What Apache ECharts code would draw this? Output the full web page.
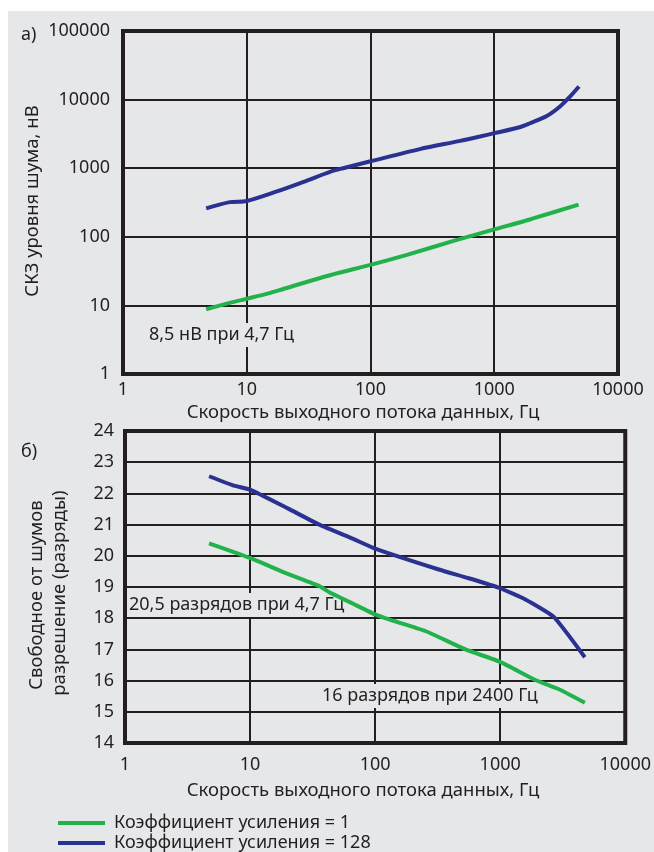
<!DOCTYPE html>
<html>
<head>
<meta charset="utf-8">
<script src="https://cdn.jsdelivr.net/npm/echarts@6/dist/echarts.min.js"></script>
<style>
html,body{margin:0;padding:0;background:#fff;}
#c{width:654px;height:852px;}
</style>
</head>
<body>
<div id="c"></div>
<script>
// ---- data ----
const seriesNames = ['Коэффициент усиления = 1', 'Коэффициент усиления = 128'];
const xTitle = 'Скорость выходного потока данных, Гц';
const topYTitle = 'СКЗ уровня шума, нВ';
const botYTitle = ['Свободное от шумов', 'разрешение (разряды)'];
const topAnnot = '8,5 нВ при 4,7 Гц';
const botAnnot1 = '20,5 разрядов при 4,7 Гц';
const botAnnot2 = '16 разрядов при 2400 Гц';

// (a) noise RMS, nV
const topGreenX = [4.7, 7.3, 10, 15, 20, 47, 100, 200, 500, 1000, 2000, 4800];
const topGreenY = [8.8, 10.9, 12.5, 15, 17.5, 27.5, 39, 55, 90, 128, 182, 295];
const topBlueX = [4.7, 7.3, 10, 17.5, 30, 47, 60, 100, 250, 530, 767, 1000, 1600, 1945, 2655, 3400, 4095, 4840];
const topBlueY = [260, 320, 333, 458, 650, 884, 1000, 1260, 1900, 2500, 2900, 3240, 3950, 4520, 5770, 7950, 11070, 15500];

// (б) noise-free resolution, bits
const botGreenX = [4.7, 10, 20, 35.8, 43, 66, 100, 129, 252, 527, 1000, 1905, 2925, 4750];
const botGreenY = [20.4, 19.93, 19.42, 19.03, 18.83, 18.47, 18.12, 17.96, 17.59, 17.0, 16.6, 16.02, 15.73, 15.29];
const botBlueX = [4.7, 7.3, 10, 20, 35.8, 66, 100, 323, 561, 1000, 1590, 2670, 4750];
const botBlueY = [22.55, 22.26, 22.12, 21.52, 21.0, 20.55, 20.23, 19.56, 19.28, 18.96, 18.6, 18.05, 16.75];

const xTicks = [1, 10, 100, 1000, 10000];
const topYMin = 1, topYMax = 100000;
const botYMin = 14, botYMax = 24, botYStep = 1;

const zip = (xs, ys) => xs.map((x, i) => [x, ys[i]]);

const GREEN = '#22b24c';
const BLUE = '#2b3190';
const INK = '#231f20';
const BG = '#e6e7e9';
const FONT = 'Noto Sans';
const FS = 18;

const chart = echarts.init(document.getElementById('c'), null, {renderer: 'canvas'});

const xAxisCommon = {
  type: 'log', min: xTicks[0], max: xTicks[xTicks.length - 1], logBase: 10,
  axisLine: {show: false}, axisTick: {show: false},
  splitLine: {show: true, lineStyle: {color: INK, width: 2}},
  axisLabel: {color: INK, fontFamily: FONT, fontSize: FS, formatter: v => String(v)}
};
const f = (size) => size + 'px "Noto Sans"';

const option = {
  backgroundColor: '#fff',
  animation: false,
  textStyle: {fontFamily: FONT, color: INK},
  grid: [
    {left: 123, top: 31, width: 495, height: 343, show: true, borderColor: INK, borderWidth: 4, backgroundColor: 'transparent'},
    {left: 125, top: 431, width: 502, height: 312, show: true, borderColor: INK, borderWidth: 4, backgroundColor: 'transparent'}
  ],
  xAxis: [
    Object.assign({}, xAxisCommon, {gridIndex: 0, axisLabel: Object.assign({}, xAxisCommon.axisLabel, {margin: 7})}),
    Object.assign({}, xAxisCommon, {gridIndex: 1, axisLabel: Object.assign({}, xAxisCommon.axisLabel, {margin: 13})})
  ],
  yAxis: [
    {type: 'log', gridIndex: 0, min: topYMin, max: topYMax, logBase: 10,
     axisLine: {show: false}, axisTick: {show: false},
     splitLine: {show: true, lineStyle: {color: INK, width: 2}},
     axisLabel: {color: INK, fontFamily: FONT, fontSize: FS, margin: 13, formatter: v => String(v)}},
    {type: 'value', gridIndex: 1, min: botYMin, max: botYMax, interval: botYStep,
     axisLine: {show: false}, axisTick: {show: false},
     splitLine: {show: true, lineStyle: {color: INK, width: 2}},
     axisLabel: {color: INK, fontFamily: FONT, fontSize: FS, margin: 11}}
  ],
  legend: {
    orient: 'vertical', left: 53, top: 808, height: 120, itemWidth: 47, itemHeight: 4, itemGap: 0,
    icon: 'rect',
    textStyle: {color: INK, fontFamily: FONT, fontSize: FS, lineHeight: 20, padding: [0, 0, 0, 4]},
    data: seriesNames
  },
  series: [
    {name: seriesNames[0], type: 'line', xAxisIndex: 0, yAxisIndex: 0, data: zip(topGreenX, topGreenY),
     showSymbol: false, smooth: 0.3, lineStyle: {color: GREEN, width: 4}, itemStyle: {color: GREEN}, z: 3},
    {name: seriesNames[1], type: 'line', xAxisIndex: 0, yAxisIndex: 0, data: zip(topBlueX, topBlueY),
     showSymbol: false, smooth: 0.3, lineStyle: {color: BLUE, width: 4}, itemStyle: {color: BLUE}, z: 3},
    {name: seriesNames[0], type: 'line', xAxisIndex: 1, yAxisIndex: 1, data: zip(botGreenX, botGreenY),
     showSymbol: false, smooth: 0.15, lineStyle: {color: GREEN, width: 4}, itemStyle: {color: GREEN}, z: 3},
    {name: seriesNames[1], type: 'line', xAxisIndex: 1, yAxisIndex: 1, data: zip(botBlueX, botBlueY),
     showSymbol: false, smooth: 0.15, lineStyle: {color: BLUE, width: 4}, itemStyle: {color: BLUE}, z: 3}
  ],
  graphic: [
    {type: 'rect', left: 8, top: 11, shape: {width: 646, height: 841}, style: {fill: BG}, z: -10, silent: true},
    {type: 'text', x: 21, y: 35, style: {text: 'а)', font: f(FS), fill: INK, verticalAlign: 'middle'}, z: 5},
    {type: 'text', x: 21, y: 452, style: {text: 'б)', font: f(FS), fill: INK, verticalAlign: 'middle'}, z: 5},
    {type: 'text', x: 363, y: 413, style: {text: xTitle, font: f(18.5), fill: INK, align: 'center', verticalAlign: 'middle'}, z: 5},
    {type: 'text', x: 363, y: 791, style: {text: xTitle, font: f(18.5), fill: INK, align: 'center', verticalAlign: 'middle'}, z: 5},
    {type: 'text', x: 33, y: 201, rotation: Math.PI / 2, style: {text: topYTitle, font: f(18.5), fill: INK, align: 'center', verticalAlign: 'middle'}, z: 5},
    {type: 'text', x: 37, y: 595, rotation: Math.PI / 2, style: {text: botYTitle[0], font: f(18.5), fill: INK, align: 'center', verticalAlign: 'middle'}, z: 5},
    {type: 'text', x: 60, y: 593, rotation: Math.PI / 2, style: {text: botYTitle[1], font: f(18.5), fill: INK, align: 'center', verticalAlign: 'middle'}, z: 5},
    {type: 'text', x: 147, y: 335, style: {text: topAnnot, font: f(FS), fill: INK, align: 'left', verticalAlign: 'middle', backgroundColor: BG, padding: [3, 2, 3, 2]}, z: 1},
    {type: 'text', x: 127, y: 605, style: {text: botAnnot1, font: f(FS), fill: INK, align: 'left', verticalAlign: 'middle', backgroundColor: BG, padding: [3, 2, 3, 2]}, z: 1},
    {type: 'text', x: 320, y: 696, style: {text: botAnnot2, font: f(FS), fill: INK, align: 'left', verticalAlign: 'middle', backgroundColor: BG, padding: [3, 2, 3, 2]}, z: 1}
  ]
};
chart.setOption(option);
</script>
</body>
</html>
